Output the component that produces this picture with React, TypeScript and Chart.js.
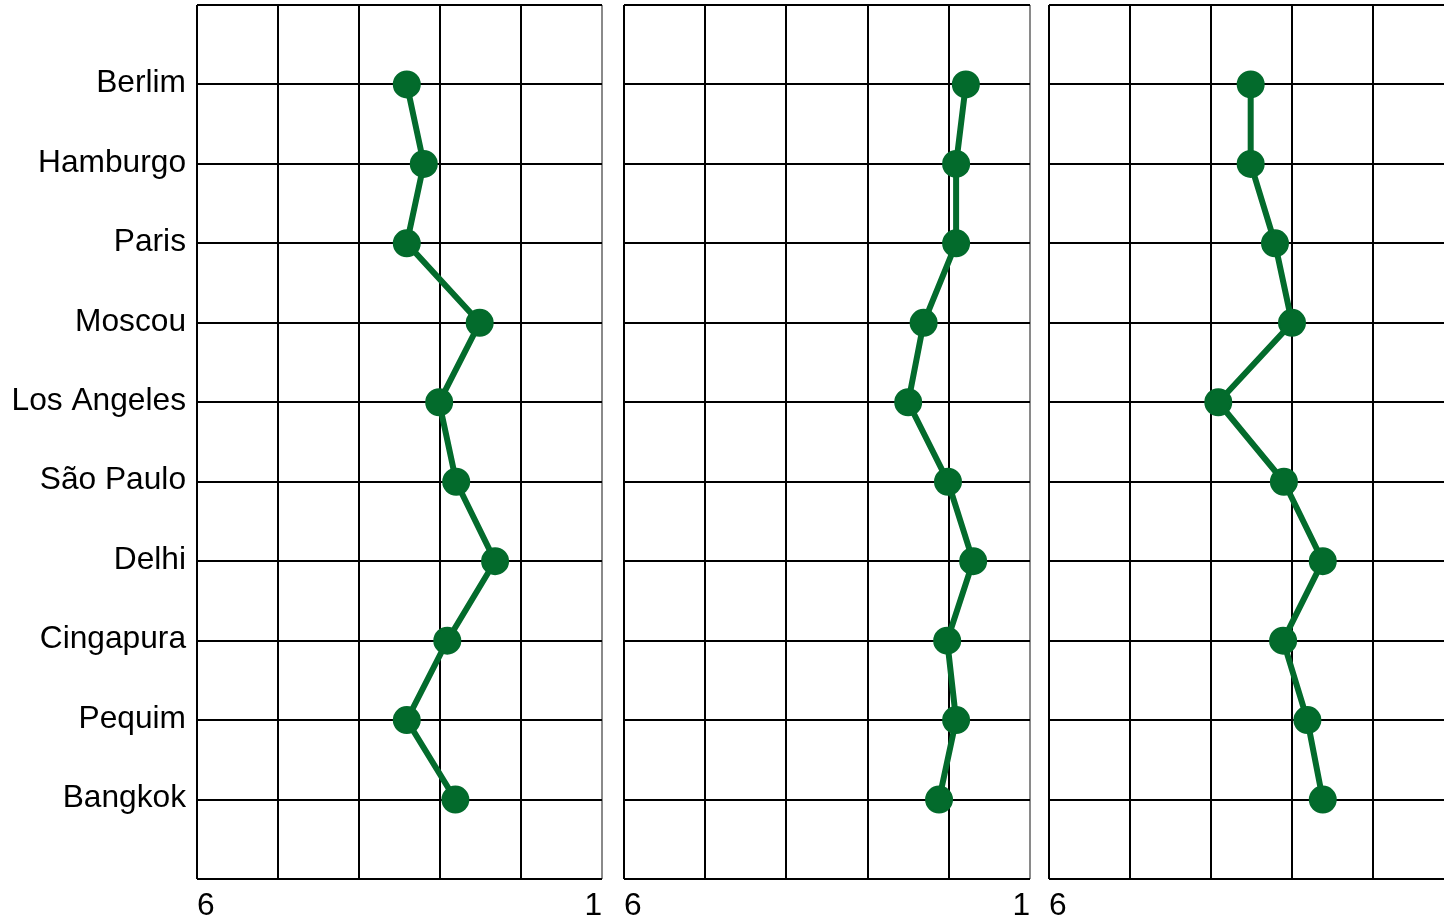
import React, { useEffect, useRef } from "react";
import { Chart, registerables } from "chart.js";

Chart.register(...registerables);

const cities = [
  "Berlim",
  "Hamburgo",
  "Paris",
  "Moscou",
  "Los Angeles",
  "São Paulo",
  "Delhi",
  "Cingapura",
  "Pequim",
  "Bangkok",
];

const seriesA = [3.41, 3.2, 3.41, 2.51, 3.01, 2.8, 2.32, 2.91, 3.41, 2.81];
const seriesB = [1.79, 1.91, 1.91, 2.31, 2.5, 2.01, 1.7, 2.02, 1.91, 2.12];
const seriesC = [3.51, 3.51, 3.21, 3.0, 3.91, 3.1, 2.62, 3.11, 2.81, 2.62];

const xMin = 1;
const xMax = 6;
const leftTickLabel = "6";
const rightTickLabel = "1";

const GREEN = "#036b2c";
const FONT = "'Liberation Sans', Arial, sans-serif";
const FONT_SIZE = 31.7;
const LINE_HEIGHT = FONT_SIZE * 1.2;
const X_LABEL_PAD = 8;

function zeroPad(scale: any) {
  scale.paddingTop = 0;
  scale.paddingBottom = 0;
  scale.paddingLeft = 0;
  scale.paddingRight = 0;
}

type PanelProps = {
  values: number[];
  canvasLeft: number;
  canvasWidth: number;
  areaLeft: number;
  showCities: boolean;
  showRightLabel: boolean;
};

function Panel({ values, canvasLeft, canvasWidth, areaLeft, showCities, showRightLabel }: PanelProps) {
  const ref = useRef<HTMLCanvasElement | null>(null);

  useEffect(() => {
    if (!ref.current) return;
    const data = values.map((v, i) => ({ x: v, y: i + 1 }));
    const tickFont = { family: FONT, size: FONT_SIZE, lineHeight: 1.2 };
    const chart = new Chart(ref.current, {
      type: "scatter",
      data: {
        datasets: [
          {
            data,
            showLine: true,
            borderColor: GREEN,
            backgroundColor: GREEN,
            borderWidth: 6,
            pointRadius: 13,
            pointBorderWidth: 2,
            pointBorderColor: GREEN,
            pointBackgroundColor: GREEN,
            clip: false,
          },
        ],
      },
      options: {
        animation: false,
        responsive: false,
        devicePixelRatio: 1,
        layout: { autoPadding: false, padding: { top: 5, right: 10, left: 0, bottom: 0 } },
        plugins: { legend: { display: false }, tooltip: { enabled: false } },
        scales: {
          x: {
            type: "linear",
            position: "bottom",
            weight: 0,
            min: xMin,
            max: xMax,
            reverse: true,
            border: { display: false },
            grid: {
              color: (ctx: any) => (ctx.tick && ctx.tick.value === xMin ? "#8a8a8a" : "#000000"),
              lineWidth: 2,
              drawTicks: false,
            },
            ticks: {
              stepSize: 1,
              autoSkip: false,
              maxRotation: 0,
              align: "start",
              mirror: true,
              padding: -(X_LABEL_PAD + LINE_HEIGHT),
              color: "#000",
              font: tickFont,
              callback: (v: any) => (v === xMax ? leftTickLabel : ""),
            },
            afterFit: (scale: any) => {
              scale.height = 0;
              zeroPad(scale);
            },
          },
          x2: {
            type: "linear",
            position: "bottom",
            weight: 1,
            min: xMin,
            max: xMax,
            reverse: true,
            border: { display: false },
            grid: { display: false, drawTicks: false },
            ticks: {
              stepSize: 1,
              autoSkip: false,
              maxRotation: 0,
              align: "end",
              padding: X_LABEL_PAD,
              color: "#000",
              font: tickFont,
              callback: (v: any) => (showRightLabel && v === xMin ? rightTickLabel : ""),
            },
            afterFit: (scale: any) => {
              scale.height = 36;
              zeroPad(scale);
            },
          },
          y: {
            type: "linear",
            min: 0,
            max: 11,
            reverse: true,
            border: { display: false },
            grid: { color: "#000000", lineWidth: 2, drawTicks: false },
            ticks: {
              display: showCities,
              stepSize: 1,
              autoSkip: false,
              padding: 11,
              labelOffset: -1,
              color: "#000",
              font: tickFont,
              callback: (v: any) => cities[(v as number) - 1] ?? "",
            },
            afterFit: (scale: any) => {
              scale.width = areaLeft - canvasLeft;
              zeroPad(scale);
            },
          },
        },
      } as any,
    });
    return () => chart.destroy();
  }, []);

  return (
    <canvas
      ref={ref}
      width={canvasWidth}
      height={915}
      style={{ position: "absolute", left: canvasLeft, top: 0, width: canvasWidth, height: 915 }}
    />
  );
}

export default function App() {
  return (
    <div
      style={{
        position: "fixed",
        left: 0,
        top: 0,
        width: 1444,
        height: 915,
        overflow: "hidden",
        background: "#fff",
      }}
    >
      <Panel values={seriesA} canvasLeft={0} canvasWidth={612} areaLeft={197} showCities={true} showRightLabel={true} />
      <Panel values={seriesB} canvasLeft={614} canvasWidth={426} areaLeft={624} showCities={false} showRightLabel={true} />
      <Panel values={seriesC} canvasLeft={1039} canvasWidth={425} areaLeft={1049} showCities={false} showRightLabel={false} />
    </div>
  );
}
